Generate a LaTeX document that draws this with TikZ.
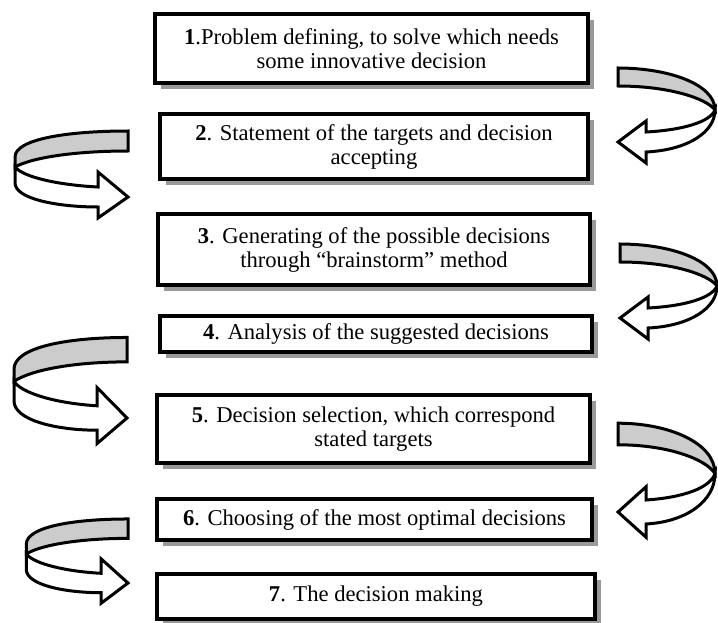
\documentclass[tikz,border=0pt]{standalone}
\usepackage{fontspec}
\setmainfont{Liberation Serif}
\usetikzlibrary{shadows}
\definecolor{bandgrey}{HTML}{CCCCCC}
\definecolor{shadowgrey}{HTML}{999999}
\tikzset{
  stepbox/.style={draw=black, line width=3.8pt, fill=white, align=center,
    inner sep=0pt, font=\fontsize{22.6}{24}\selectfont,
    drop shadow={shadow xshift=6pt, shadow yshift=-6pt, fill=shadowgrey, opacity=1}},
  arrowline/.style={draw=black, line width=3pt, line join=miter}
}
\newcommand\rcurl{%
  \draw[arrowline, fill=bandgrey] (0,-74) .. controls (50,-74) and (97,-58) .. (97,-32)
     .. controls (88,-44) and (50,-56) .. (0,-56) -- cycle;
  \draw[arrowline, fill=white] (97,-32) .. controls (97,-10) and (70,8) .. (28,10)
     -- (28,21) -- (0,0) -- (28,-21) -- (28,-10)
     .. controls (65,-12) and (92,-20) .. (97,-32) -- cycle;
}
\newcommand\lcurl{%
  \draw[arrowline, fill=bandgrey] (0,-66) .. controls (-60,-66) and (-113,-58) .. (-113,-40)
     -- (-113,-30) .. controls (-95,-40) and (-50,-46) .. (0,-46) -- cycle;
  \draw[arrowline, fill=white] (-113,-30) -- (-113,-14) .. controls (-113,2) and (-70,10) .. (-30,10)
     -- (-30,21) -- (0,0) -- (-30,-25) -- (-30,-10)
     .. controls (-70,-12) and (-105,-20) .. (-113,-30) -- cycle;
}
\begin{document}
\begin{tikzpicture}[x=1pt,y=-1pt]
\useasboundingbox (0,0) rectangle (718,623);
\fill[white] (0,0) rectangle (718,623);

\node[stepbox, minimum width=433.5pt, minimum height=69.5pt] (b1) at (371.5,48.5)
  {\textbf{1}.Problem defining, to solve which needs\\some innovative decision};
\node[stepbox, minimum width=428.5pt, minimum height=65.5pt] (b2) at (374,146.5)
  {\textbf{2}. Statement of the targets and decision\\accepting};
\node[stepbox, minimum width=432.5pt, minimum height=71.5pt] (b3) at (374,249.5)
  {\textbf{3}. Generating of the possible decisions\\through “brainstorm” method};
\node[stepbox, minimum width=432.5pt, minimum height=36.5pt] (b4) at (376,334)
  {\textbf{4}. Analysis of the suggested decisions};
\node[stepbox, minimum width=433.5pt, minimum height=68.5pt] (b5) at (373.5,429)
  {\textbf{5}. Decision selection, which correspond\\stated targets};
\node[stepbox, minimum width=435.5pt, minimum height=41.5pt] (b6) at (374.5,519.5)
  {\textbf{6}. Choosing of the most optimal decisions};
\node[stepbox, minimum width=438.5pt, minimum height=45.5pt] (b7) at (376,596.5)
  {\textbf{7}. The decision making};

\coordinate (r1) at (618,142);
\coordinate (r2) at (620,318);
\coordinate (r3) at (618,512);
\coordinate (l1) at (128,197);
\coordinate (l2) at (127,418);
\coordinate (l3) at (128,583);

\begin{scope}[shift={(r1)}]\rcurl\end{scope}
\begin{scope}[shift={(r2)}]\rcurl\end{scope}
\begin{scope}[shift={(r3)}, yscale=1.2]\rcurl\end{scope}
\begin{scope}[shift={(l1)}]\lcurl\end{scope}
\begin{scope}[shift={(l2)}, yscale=1.22]\lcurl\end{scope}
\begin{scope}[shift={(l3)}, xscale=0.9, yscale=0.97]\lcurl\end{scope}
\end{tikzpicture}
\end{document}
